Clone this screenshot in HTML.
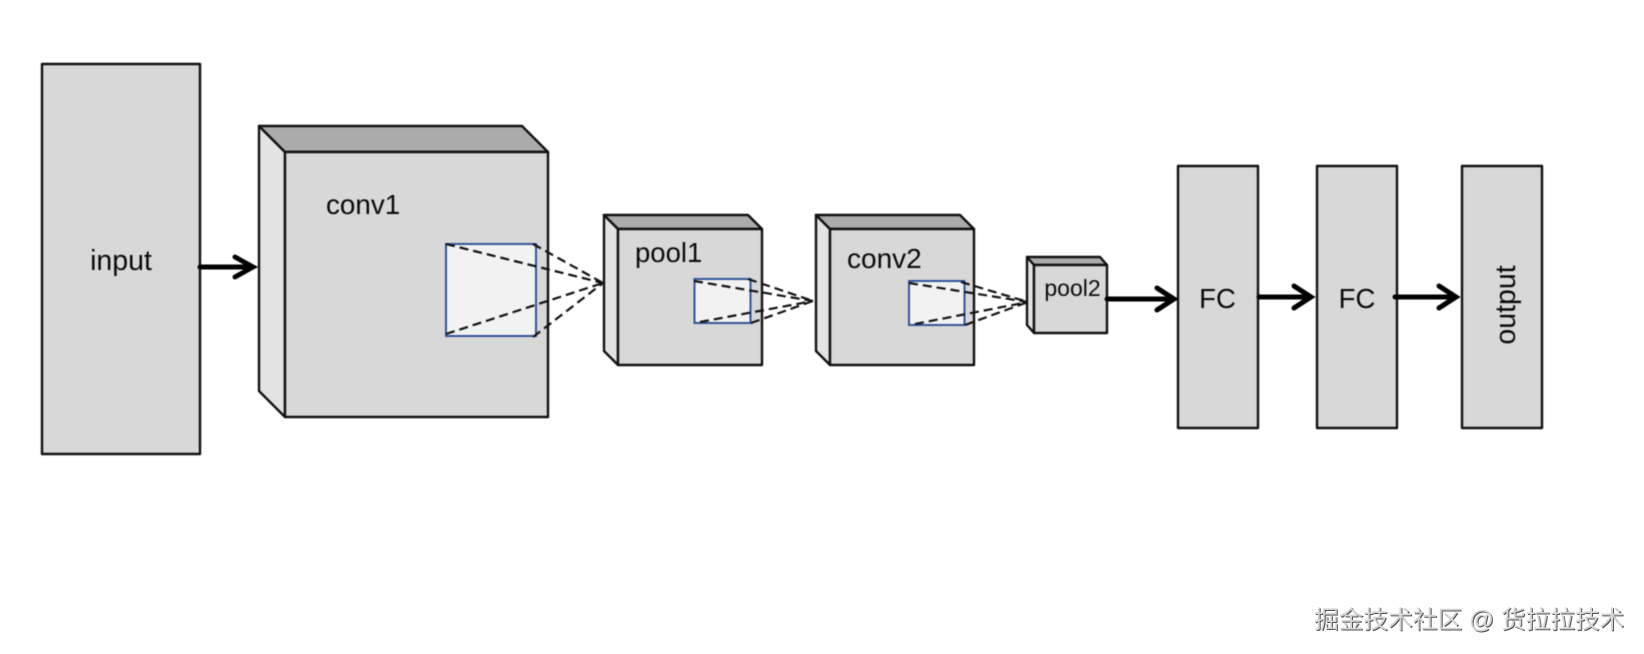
<!DOCTYPE html>
<html lang="en">
<head>
<meta charset="utf-8">
<style>
html,body{margin:0;padding:0;background:#fff;width:1644px;height:654px;overflow:hidden}
svg{position:absolute;left:0;top:0;filter:blur(0.4px)}
text{font-family:"Liberation Sans",sans-serif;fill:#0a0a0a}
.wm{position:absolute;left:1314px;top:605px;width:325px;font:24.7px/32px "Liberation Sans","Noto Sans CJK SC",sans-serif;color:#d4d4d4;white-space:pre;text-shadow:1px 1px 0 #555,-1px -1px 0 #fff}
</style>
</head>
<body>
<svg width="1644" height="654" viewBox="0 0 1644 654">
<g stroke="#111" stroke-width="2.4" stroke-linejoin="round">
<!-- input -->
<rect x="42" y="64" width="158" height="390" fill="#d8d8d8"/>
<!-- conv1 -->
<polygon points="259,126 285,152 285,417 259,391" fill="#e3e3e3"/>
<polygon points="259,126 522,126 548,152 285,152" fill="#ababab"/>
<rect x="285" y="152" width="263" height="265" fill="#d8d8d8"/>
<!-- pool1 -->
<polygon points="604,215 618,229 618,365 604,351" fill="#e3e3e3"/>
<polygon points="604,215 748,215 762,229 618,229" fill="#ababab"/>
<rect x="618" y="229" width="144" height="136" fill="#d8d8d8"/>
<!-- conv2 -->
<polygon points="816,215 830,229 830,365 816,351" fill="#e3e3e3"/>
<polygon points="816,215 960,215 974,229 830,229" fill="#ababab"/>
<rect x="830" y="229" width="144" height="136" fill="#d8d8d8"/>
<!-- pool2 -->
<polygon points="1027,257 1034,265 1034,333 1027,325" fill="#e3e3e3"/>
<polygon points="1027,257 1100,257 1107,265 1034,265" fill="#ababab"/>
<rect x="1034" y="265" width="73" height="68" fill="#d8d8d8"/>
<!-- FC/output -->
<rect x="1178" y="166" width="80" height="262" fill="#d8d8d8"/>
<rect x="1317" y="166" width="80" height="262" fill="#d8d8d8"/>
<rect x="1462" y="166" width="80" height="262" fill="#d8d8d8"/>
</g>
<!-- inner rects -->
<g stroke="#2f5597" stroke-width="2" fill="#f2f2f2">
<rect x="446" y="244" width="90" height="92"/>
<rect x="694.500" y="279" width="56" height="44"/>
<rect x="909" y="281" width="55.500" height="44"/>
</g>
<!-- dashed -->
<g stroke="#111" stroke-width="2.2" stroke-dasharray="9 5" fill="none">
<path d="M446 244L603 283M446 334L603 283M533 244L603 283M533 337L603 283"/>
<path d="M694 281L813 301M700 322L813 301M748 279L813 301M751 323L813 301"/>
<path d="M909 283L1028 302M915 324L1028 302M961 282L1028 302M965 325L1028 302"/>
</g>
<!-- arrows -->
<g stroke="#000" stroke-width="5" fill="none" stroke-linecap="round" stroke-linejoin="miter">
<path d="M200 267H253M235 257L253 267L235 277"/>
<path d="M1107 299H1174M1157 288L1174 299L1157 310"/>
<path d="M1259 297H1311M1294 286L1311 297L1294 308"/>
<path d="M1395 297H1456M1439 286L1456 297L1439 308"/>
</g>
<!-- labels -->
<text x="121" y="270" font-size="28.500" text-anchor="middle">input</text>
<text x="326" y="214" font-size="27.800">conv1</text>
<text x="635" y="262" font-size="27.500">pool1</text>
<text x="847" y="268" font-size="28">conv2</text>
<text x="1072.500" y="296" font-size="23" text-anchor="middle">pool2</text>
<text x="1217.500" y="308" font-size="27.500" text-anchor="middle">FC</text>
<text x="1357" y="308" font-size="27.500" text-anchor="middle">FC</text>
<text x="0" y="0" font-size="28.500" text-anchor="middle" transform="translate(1515 305) rotate(-90)">output</text>
</svg>
<div class="wm">掘金技术社区 @ 货拉拉技术</div>
</body>
</html>
